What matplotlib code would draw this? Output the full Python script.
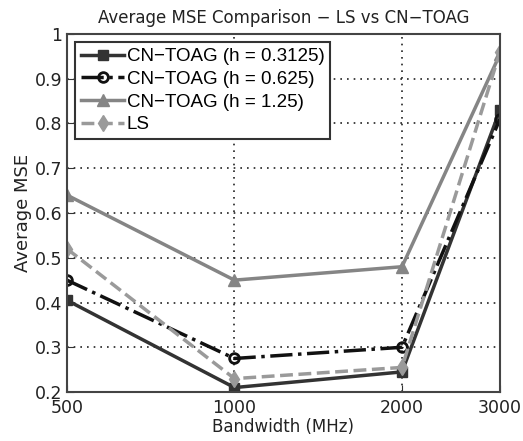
import matplotlib
matplotlib.use("Agg")
import matplotlib.pyplot as plt
from matplotlib.ticker import NullLocator, FixedLocator, FixedFormatter

plt.rcParams['font.family'] = ['DejaVu Sans']

bandwidth = [500, 1000, 2000, 3000]
xtick_labels = ['500', '1000', '2000', '3000']
mse_h03125 = [0.405, 0.21, 0.245, 0.83]
mse_h0625 = [0.45, 0.275, 0.30, 0.81]
mse_h125 = [0.64, 0.45, 0.48, 0.955]
mse_ls = [0.52, 0.23, 0.255, 0.96]

fig = plt.figure(figsize=(5.23, 4.41), dpi=100)
ax = fig.add_axes([0.128, 0.111, 0.828, 0.812])

ax.plot(bandwidth, mse_h03125, '-', color='#333333', lw=2.5, marker='s', ms=7,
        label='CN\u2212TOAG (h = 0.3125)')
ax.plot(bandwidth, mse_h0625, '-.', color='#111111', lw=2.5, marker='o', ms=7,
        mfc='none', mew=2, label='CN\u2212TOAG (h = 0.625)')
ax.plot(bandwidth, mse_h125, '-', color='#858585', lw=2.5, marker='^', ms=8,
        label='CN\u2212TOAG (h = 1.25)')
ax.plot(bandwidth, mse_ls, '--', color='#9a9a9a', lw=2.5, marker='d', ms=8,
        label='LS')

ax.set_xscale('log')
ax.set_xlim(500, 3000)
ax.set_ylim(0.2, 1.0)
ax.xaxis.set_major_locator(FixedLocator(bandwidth))
ax.xaxis.set_major_formatter(FixedFormatter(xtick_labels))
ax.xaxis.set_minor_locator(NullLocator())
ax.set_yticks([0.2, 0.3, 0.4, 0.5, 0.6, 0.7, 0.8, 0.9, 1.0])
ax.set_yticklabels(['0.2', '0.3', '0.4', '0.5', '0.6', '0.7', '0.8', '0.9', '1'])
ax.tick_params(direction='in', labelsize=12.5, length=5, color='#333333', labelcolor='#222222')
ax.tick_params(axis='x', pad=5)
ax.grid(True, linestyle=(0, (1, 3)), color='#222222', lw=1.2)
for s in ax.spines.values():
    s.set_color('#444444')
    s.set_linewidth(1.5)

ax.set_title('Average MSE Comparison \u2212 LS vs CN\u2212TOAG', fontsize=12, pad=8, color='#222222')
ax.set_xlabel('Bandwidth (MHz)', fontsize=12, labelpad=1, color='#222222')
ax.set_ylabel('Average MSE', fontsize=13, labelpad=2, color='#222222')

leg = ax.legend(loc='upper left', frameon=True, fancybox=False,
                prop={'family': 'Liberation Sans', 'size': 13.5},
                edgecolor='#333333', framealpha=1, handlelength=2.3,
                handletextpad=0.15, borderpad=0.3, labelspacing=0.3,
                borderaxespad=0.45)
leg.get_frame().set_linewidth(1.5)

fig.savefig('out.png', dpi=100)
